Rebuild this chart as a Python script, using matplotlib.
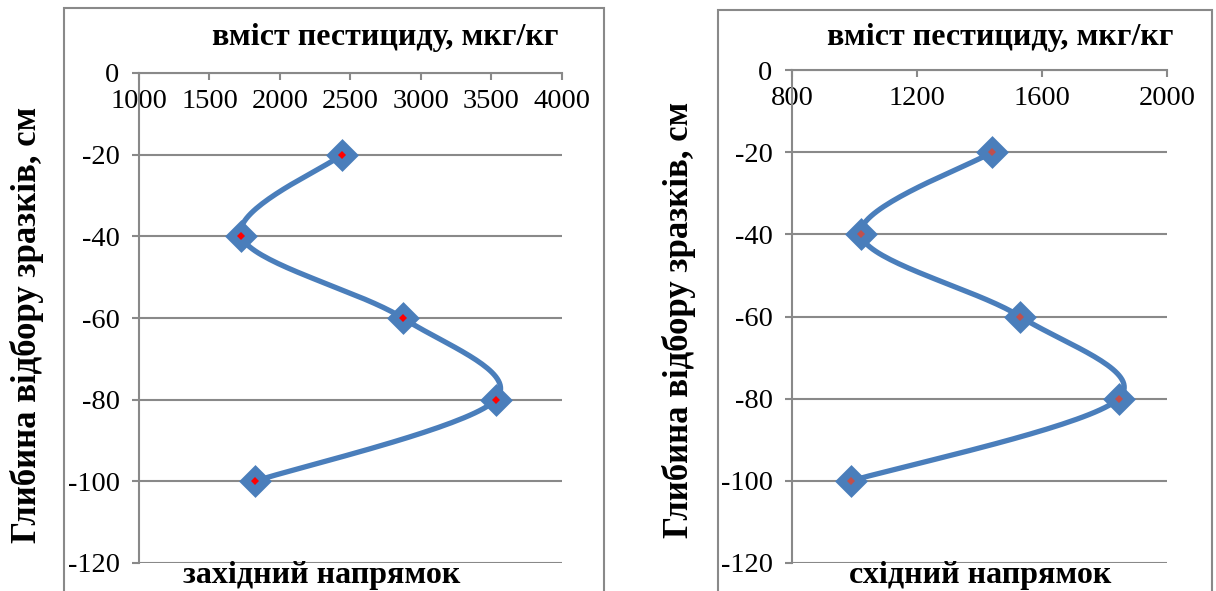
import matplotlib
matplotlib.use("Agg")
import matplotlib.pyplot as plt
import numpy as np
from matplotlib.patches import Rectangle

plt.rcParams["font.family"] = ["Liberation Serif", "DejaVu Serif"]

# глибина відбору, см
depths = [-20, -40, -60, -80, -100]
# вміст пестициду, мкг/кг
west_values = [2440, 1725, 2870, 3530, 1820]
east_values = [1440, 1020, 1530, 1845, 990]

west_xticks = [1000, 1500, 2000, 2500, 3000, 3500, 4000]
east_xticks = [800, 1200, 1600, 2000]
yticks = [0, -20, -40, -60, -80, -100, -120]

title_text = "вміст пестициду, мкг/кг"
ylabel_text = "Глибина відбору зразків, см"
west_label = "західний напрямок"
east_label = "східний напрямок"

LINE_BLUE = "#4A7EBB"
GRID_GRAY = "#898989"

W, H = 1216, 591


def smooth_curve(ax, xs, ys, n=40):
    """Catmull-Rom style bezier through the points, computed in screen space."""
    pts = ax.transData.transform(np.column_stack([xs, ys]))
    out = []
    m = len(pts)
    for i in range(m - 1):
        p0 = pts[max(i - 1, 0)]
        p1 = pts[i]
        p2 = pts[i + 1]
        p3 = pts[min(i + 2, m - 1)]
        c1 = p1 + (p2 - p0) / 6.0
        c2 = p2 - (p3 - p1) / 6.0
        t = np.linspace(0, 1, n)[:, None]
        seg = ((1 - t) ** 3) * p1 + 3 * ((1 - t) ** 2) * t * c1 \
            + 3 * (1 - t) * t ** 2 * c2 + t ** 3 * p2
        out.append(seg if i == 0 else seg[1:])
    curve = np.vstack(out)
    return ax.transData.inverted().transform(curve)


def draw_panel(fig, rect, xs, xticks, dot_color):
    ax = fig.add_axes(rect)
    ax.set_xlim(xticks[0], xticks[-1])
    ax.set_ylim(-120, 0)
    ax.set_xticks(xticks)
    ax.set_yticks(yticks)
    ax.set_xticklabels([str(v) for v in xticks])
    ax.set_yticklabels([str(v) for v in yticks])

    for side in ("top", "right"):
        ax.spines[side].set_visible(False)
    ax.spines["bottom"].set_position(("data", 0))
    for side in ("left", "bottom"):
        ax.spines[side].set_color(GRID_GRAY)
        ax.spines[side].set_linewidth(1.5)
    ax.yaxis.grid(True, color=GRID_GRAY, linewidth=1.5)
    ax.set_axisbelow(True)
    ax.tick_params(axis="both", colors=GRID_GRAY, labelcolor="black",
                   labelsize=20.5, length=5, width=1.5, direction="out")
    ax.tick_params(axis="x", pad=6.5)
    ax.tick_params(axis="y", pad=9)
    ax.patch.set_alpha(0)

    curve = smooth_curve(ax, xs, depths)
    ax.plot(curve[:, 0], curve[:, 1], color=LINE_BLUE, linewidth=3.8,
            solid_capstyle="round", zorder=3, clip_on=False)
    ax.plot(xs, depths, linestyle="none", marker="D", markersize=13,
            markerfacecolor=LINE_BLUE, markeredgecolor=LINE_BLUE,
            markeredgewidth=3.5, zorder=4, clip_on=False)
    ax.plot(xs, depths, linestyle="none", marker="D", markersize=4.2,
            markerfacecolor=dot_color, markeredgecolor=dot_color,
            markeredgewidth=0, zorder=5, clip_on=False)
    return ax


fig = plt.figure(figsize=(W / 100, H / 100), dpi=100)

# chart borders
fig.patches.append(Rectangle((64 / W, -0.05), (604 - 64) / W, 1.05 - 8 / H,
                             transform=fig.transFigure, fill=False,
                             edgecolor=GRID_GRAY, linewidth=1.5))
fig.patches.append(Rectangle((718 / W, -0.05), (1212 - 718) / W, 1.05 - 10 / H,
                             transform=fig.transFigure, fill=False,
                             edgecolor=GRID_GRAY, linewidth=1.5))

draw_panel(fig, [139 / W, 1 - 563 / H, (562 - 139) / W, (563 - 73) / H],
           west_values, west_xticks, "#FF0000")
draw_panel(fig, [792 / W, 1 - 563 / H, (1167 - 792) / W, (563 - 70) / H],
           east_values, east_xticks, "#C0504D")

label_kw = dict(fontsize=23, fontweight="bold", ha="center", va="center")
fig.text(385 / W, 1 - 37 / H, title_text, **label_kw)
fig.text(1000 / W, 1 - 37 / H, title_text, **label_kw)
fig.text(322 / W, 1 - 576 / H, west_label, **label_kw)
fig.text(980 / W, 1 - 576 / H, east_label, **label_kw)
ylabel_kw = dict(label_kw, fontsize=25)
fig.text(27 / W, 1 - 325 / H, ylabel_text, rotation=90, **ylabel_kw)
fig.text(679 / W, 1 - 320 / H, ylabel_text, rotation=90, **ylabel_kw)

fig.savefig("out.png", dpi=100)
